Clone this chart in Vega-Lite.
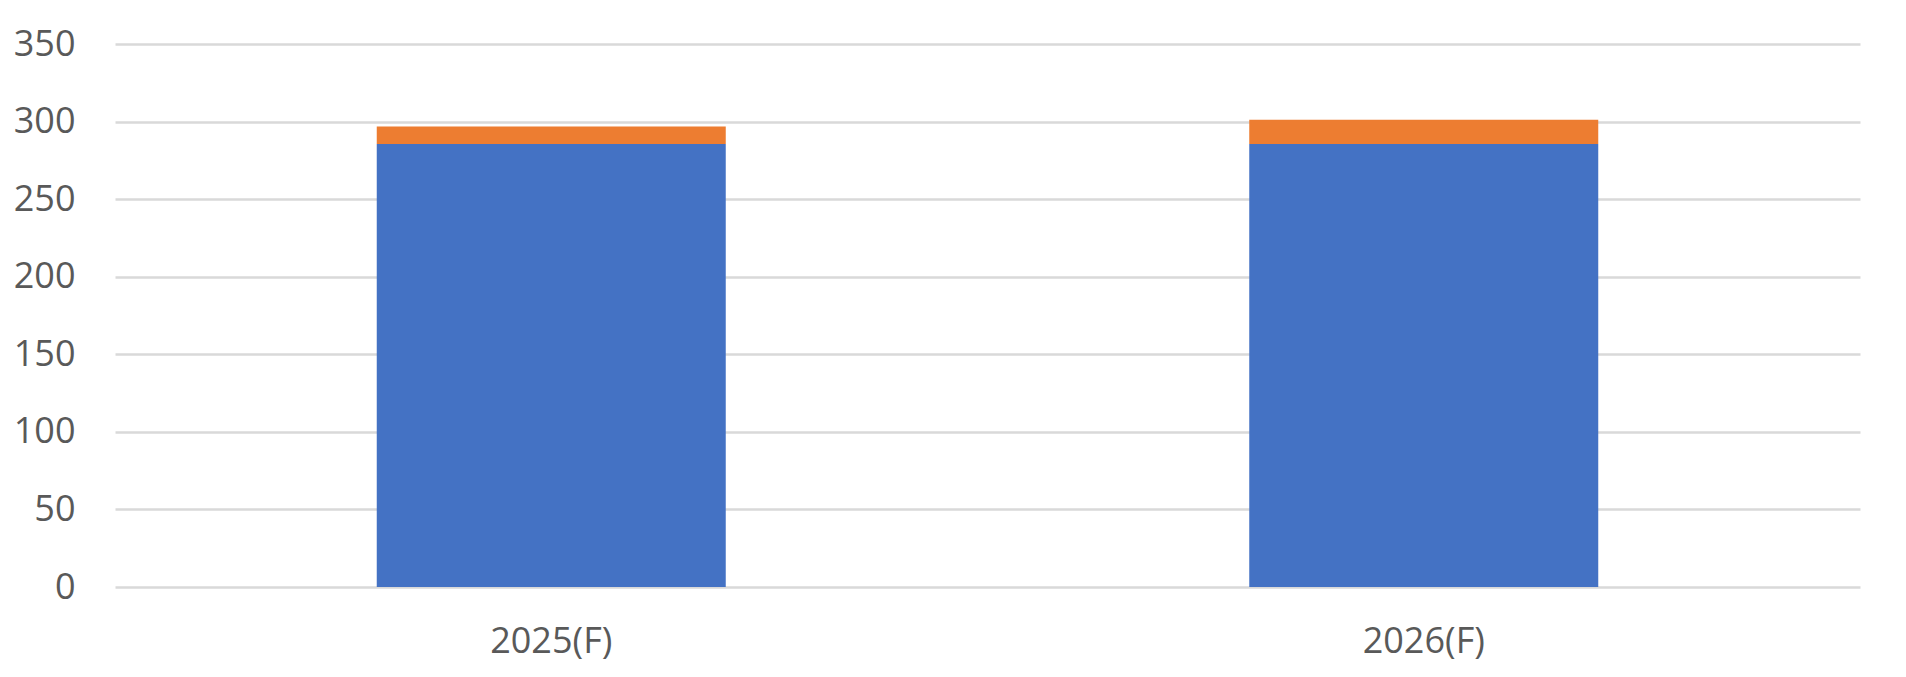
{
  "$schema": "https://vega.github.io/schema/vega-lite/v6.json",
  "autosize": "none",
  "width": 1745,
  "height": 543,
  "padding": {"left": 115, "top": 44, "right": 46, "bottom": 90},
  "background": "white",
  "data": {
    "values": [
      {"year": "2025(F)", "series": "A", "value": 285.6},
      {"year": "2025(F)", "series": "B", "value": 11.2},
      {"year": "2026(F)", "series": "A", "value": 285.6},
      {"year": "2026(F)", "series": "B", "value": 15.5}
    ]
  },
  "mark": {"type": "bar"},
  "encoding": {
    "x": {
      "field": "year",
      "type": "nominal",
      "title": null,
      "scale": {"paddingInner": 0.6, "paddingOuter": 0.3},
      "axis": {
        "labelAngle": 0,
        "labelFont": "Open Sans",
        "labelFontSize": 36,
        "labelColor": "#595959",
        "labelPadding": 37,
        "ticks": false,
        "domain": false
      }
    },
    "y": {
      "field": "value",
      "type": "quantitative",
      "stack": "zero",
      "title": null,
      "scale": {"domain": [0, 350], "nice": false},
      "axis": {
        "values": [0, 50, 100, 150, 200, 250, 300, 350],
        "labelFont": "Open Sans",
        "labelFontSize": 36,
        "labelColor": "#595959",
        "labelPadding": 40,
        "ticks": false,
        "domain": false,
        "gridColor": "#d9d9d9",
        "gridWidth": 2.5
      }
    },
    "color": {
      "field": "series",
      "type": "nominal",
      "scale": {"domain": ["A", "B"], "range": ["#4472C4", "#ED7D31"]},
      "legend": null
    },
    "order": {"field": "series", "sort": "ascending"}
  },
  "config": {"view": {"stroke": null}}
}
